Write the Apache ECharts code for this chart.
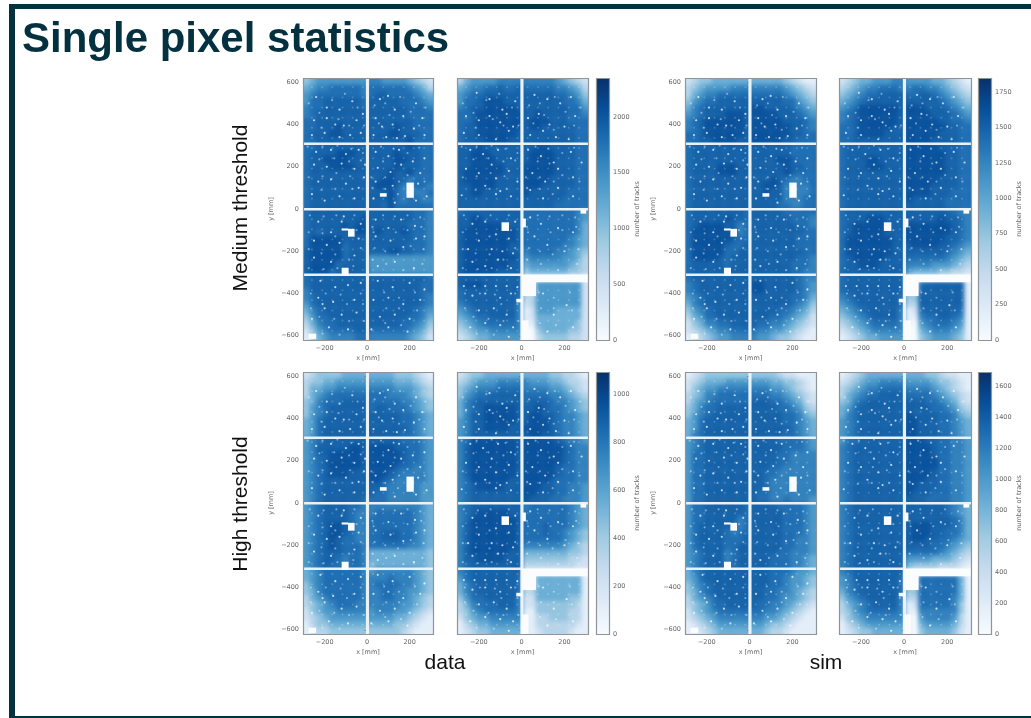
<!DOCTYPE html>
<html>
<head>
<meta charset="utf-8">
<title>Single pixel statistics</title>
<script src="https://cdn.jsdelivr.net/npm/echarts@6/dist/echarts.min.js"></script>
<style>
html,body{margin:0;padding:0;background:#fff;}
#heat,#main{position:absolute;left:0;top:0;width:1031px;height:718px;}
#heat{filter:blur(2px);}
#main{filter:blur(0.45px);}
</style>
</head>
<body>
<div id="heat"></div>
<div id="main"></div>
<script>
// each pair of strings is one row of cells from y=620 down to y=-620, each char one cell from x=-302 to x=310
// char = level (hex, 0 = empty), see levelShare
const medDataA = [
"4566666666","7766665432","5677888887","8888887653","6788888887","8998888765","6889999998","9999988876",
"7889999998","9999998887","7899999999","9999998888","8899999999","9999999888","88999a9999","9999a99888",
"8999aa9999","999aa99988","8899999999","999999a888","8899999999","999999a988","89999aaa99","9999a99988",
"899aaaa999","9999aa9988","8999aaaa99","9999a99988","8999999999","999a99a888","8999999999","99aa997888",
"8999999999","9aaa977887","8999999999","999a877778","8999999999","999a878877","8999999999","998a888888",
"8999999999","9999999887","899999999a","9999999887","899999a9aa","9999998887","89899999aa","9a999a9887",
"8aaaaa9999","9999999887","8aaaaa8999","9999998887","9aaaaa8999","999aa99887","9aaaaa8999","6666666666",
"9aaaa89999","6666666666","9aaa899999","6666666666","8999999999","9999999998","8999999999","9999999988",
"7999999999","9999999988","7899999999","9999999987","6899999999","9999999987","5789999999","9999999876",
"4688999999","9999998875","3578899999","9999988764","2467888899","8888887653","1356777788","7777776542"];
const medDataB = [
"3566667777","7777765432","5677889889","8888877653","6788999999","9999988764","6889aaa999","9999998875",
"7899aaaaa9","9999999886","889aaaaaaa","99a9999887","889aaaaaaa","9aaa999888","899aaaaaaa","9aa9999988",
"899aaaaaa9","9999999988","8999aaaa99","9999999988","999a999999","99aa999988","99aaa99999","9aaaa99988",
"99aaaa9999","9aaaa99988","99aaaaa999","aaaaa99988","9aaaaaa999","aaaaa99988","9aaaaa9999","aaaa999988",
"99aaaa9999","aaa9999988","99aa999999","a999999888","9999999999","9999998888","9999999999","9999988888",
"8999999999","8888888876","99aa999999","8888888876","99aaaaa999","8888888875","9aaaaaaaa9","8888888875",
"9aaaaaaaa9","8888888765","9aaaaaaa99","8888887765","9aaaaaaa99","7888877654","9aaaaaaaa9","6777776653",
"9aaaaaaa99","5666666543","9aaaaa9999","4555555443","9999999999","0000000000","9aaa999999","0066666662",
"8999999999","0066666662","8999999998","3366666662","7899999997","2366666662","6789999997","1266655552",
"5678899997","1255555552","4567888887","1155555542","3456677777","0045555442","2345566666","0034444332"];
const medSimA = [
"2344555555","5555543211","3456666777","7777765432","3567788888","8888876543","4678899999","9999988654",
"5789999999","aa99998765","678999aaa9","aaaa999876","789aaaaaa9","aaaaa99987","789aaaaaa9","aaaaaa9987",
"889aaaaaa9","aaaaaa9988","8899aaaa99","aaaaa99888","8999999999","9999998888","8999999999","9999998888",
"8999999999","9999aa9888","89999aaa99","99999a9988","89999aaa99","99999a9888","8999999999","999a987788",
"8999999999","99aa977778","8999999999","99a9977778","8999999999","9999977788","8999999999","9999887788",
"8999999998","9999988888","899999a998","9999998887","89aaaa9978","9999999887","8aaaaaa978","9999999988",
"8aaaaaa988","9999999888","8aaaaa9889","9999999888","8aaaaa8899","9999999988","8aaaa98999","9999999887",
"8999998999","9999998887","8999998999","9999998877","8999999999","9999999877","7899999999","aa99999876",
"7899999999","aa99999876","6789999999","9999998875","5789999999","9999998764","4678999999","9999887653",
"3568899999","9998876542","2457788999","9887765432","2345677888","8776654321","1234566777","7665443211"];
const medSimB = [
"2345566677","6666554321","3456778887","7887765432","4567889999","8899876543","5678999999","9999987654",
"678aaaaaa9","aaa9998765","789aaaaaa9","aaaa999876","789aaaaaa9","aaaaa99887","889aaaaa99","aaaaaa9988",
"889aaaa999","aaaaa99988","8899999999","aaaa999988","8999999999","aaaaa99988","8999999999","aaaaaa9988",
"8999aa9999","aaaaaa9988","8999aaa999","aaaaaa9988","8999999999","aaaaaa9988","8999999999","aaaaa99988",
"8999999999","aaaa999988","8999999999","aaaa999888","8999999999","a999998888","8999999999","9999998888",
"8999999999","9999999877","8999aaa999","99999a9987","89aaaaa999","aaaaaaa987","89aaaaa999","aaaaaaa987",
"8aaaaaaa99","aaaaaa9987","8aaaaaaa99","9aaaa99876","8aaaaaaa99","9999998765","89aaaaa999","8888887654",
"899aaa9999","7777666543","8999999999","6555544332","8999999999","0000000000","8999999999","0089999991",
"8999999999","0099999991","7899999998","4499999991","6789999998","3399999991","5678999997","1289999981",
"4567899997","1178899871","3456788887","1067888761","2345677777","0056777651","1234556666","0045666541"];
const highDataA = [
"2344445555","5555444321","3445566666","6666555432","3556677777","7777666543","3567888888","8887776543",
"4578889999","8888877654","4678999999","8998887654","4678999999","9999988765","5689999999","9999988765",
"5689999999","9999998765","5689999999","9999988765","6789999999","9999988876","6799999aa9","aaaa998876",
"6799aaaaa9","aaaaa98876","6789aaaaa9","aaaaa98876","6789aaaaa9","aaaa988776","6789aaa999","aaa9877776",
"6789999999","aa98777776","6789999999","9987777766","6789999999","9887777766","6789999998","8887777766",
"6789999887","7777777765","6789999877","7888888765","6789999877","8888888765","6789aa9877","8888888765",
"6789aa9877","8899988765","6789a98877","8899988765","6789a98887","8888887765","6789998887","5555555554",
"6789987887","5555555554","6789887887","4555555554","5678888887","6777777654","5678888887","7778777654",
"4678888887","7888877654","4578888887","7788776654","3567888887","7788776543","3456788877","7777766543",
"2456677777","6777665432","2345666666","6666554321","1344555555","5555443211","1233444444","4444432111"];
const highDataB = [
"2344555555","5555443321","3456667777","7666554332","4567778888","7777665432","4678899999","8888776543",
"5789999999","8999877654","5789aaaaa9","99a9887654","5799aaaaa9","9aa9987765","6799aaaaa9","9aaa987765",
"6799aaaa99","aaaa987765","6799999999","9aa9987765","78aaaaaaa9","aaaaa98776","79aaaaaaa9","aaaaaa9877",
"79aaaaaaa9","aaaaaa9877","79aaaaaaa9","aaaaaa9877","79aaaaaaa9","aaaaa98877","79aaaaaaa9","aaaaa98877",
"78aaaaaa99","aaaa988877","789aaaa999","aaa9988776","7899999999","aa99988776","7899999999","a999887776",
"7899999999","7888888765","789aaaaa99","8888888765","78aaaaaaa9","8888888765","79aaaaaaa9","8889888765",
"79aaaaaaa9","8889887654","79aaaaaaa9","8888887654","79aaaaaaa9","7777776543","79aaaaaa99","5555555443",
"799aaaa999","4444444332","7899999999","3333333322","7899999999","0000000000","6899999998","0055555551",
"5789999998","0055555551","5789999998","3355555551","4688999997","2255555441","3578889997","2244444431",
"3467888887","1144444331","2456677777","1133444331","1345566666","1133333321","1234455555","1123333211"];
const highSimA = [
"1234444444","4444322111","2345556666","6665544321","2456677777","7776654321","3457788888","8887765432",
"3567888888","9998876532","4578899999","9999887643","4678999999","9999988754","5689999999","9999988765",
"5689999999","9999998765","5789999999","9999988765","6789999999","9999888876","6789999999","9999988876",
"6889999999","9999887777","6889999999","9999887777","6889999999","9998877777","6889999999","9988777777",
"6889999999","9987777777","6889999999","9987777777","6889999999","9887777777","6889999999","9887787776",
"6889999998","9999888876","6889999998","9999988876","6889999978","9999988876","6899999878","9999988876",
"6899998788","9999988876","6899998889","9999988776","6899998899","9999988776","6789997899","9999887776",
"6789997899","9998887765","6789997899","9998887765","5789999999","9998887665","5689999999","9998876654",
"4678999999","9998876654","4578999999","9988776543","3567899999","9988766543","3456889999","9887765432",
"2456788888","8877654321","2345677777","7766543211","1234566666","6654432111","1123455555","5543321111"];
const highSimB = [
"1234555555","5554432211","2345667777","6666544321","3456778888","7777654321","3567889999","8888765432",
"4578999999","9998876532","5689999999","9999887643","5789999999","a999988754","6789999999","aa99988765",
"6789999999","aa99988765","6789999999","aa99988765","6889999999","aaa9988776","7899999999","aaaa988776",
"7899999999","aaaa988776","7899999999","aaaaa88776","7899999999","aaaaa88776","7899999999","aaaa988776",
"7899999999","aaa9988776","7899999999","aa99988776","7899999999","a999888776","7899999999","9998888776",
"7899999999","9999998765","7899999999","9999998765","7899999999","9999999875","7899999999","9aaa999875",
"7899999999","9aaa998875","7899999999","9aa9988765","7899999999","9999887654","7899999999","8888876543",
"7899999999","6666555432","7899999999","5444433321","7899999999","0000000000","6799999998","0088888851",
"6789999998","0088888851","5789999998","4488888851","4678999997","3388888751","3567899997","1288888741",
"3467888887","1177777741","2456777777","1067777631","1345666666","1056666531","1234455555","1045555421"];

const xTicks = [-200, 0, 200];
const yTicks = [-600, -400, -200, 0, 200, 400, 600];
const barTicksMedData = [0, 500, 1000, 1500, 2000];
const barTicksMedSim = [0, 250, 500, 750, 1000, 1250, 1500, 1750];
const barTicksHighData = [0, 200, 400, 600, 800, 1000];
const barTicksHighSim = [0, 200, 400, 600, 800, 1000, 1200, 1400, 1600];

// share of the colour bar top for each level char, and the top of the bar for the four pairs of maps
const levelShare = [0, 0.1, 0.2, 0.3, 0.4, 0.5, 0.6, 0.69, 0.76, 0.81, 0.87];
const maxPerPair = [2350, 1850, 1095, 1690];

// dead areas [x0, x1, y0, y1] in mm, one list per detector side
const deadA = [[185,218,55,125],[-90,-61,-129,-94],[-120,-89,-315,-278],[-276,-242,-613,-590],[60,90,60,75],[-120,-90,-100,-92]];
const deadB = [[-94,-61,-102,-63],[0,310,-345,-310],[0,65,-410,-345],[0,30,-620,-527],[-25,2,-440,-425],[3,18,-85,-45],[275,300,-20,-4]];
// gaps between sensors
const gapsA = [[-302,310,305,315],[-302,310,-5,5],[-302,310,-315,-305],[-6,7,-620,620]];
const gapsB = [[-302,310,305,315],[-302,310,-5,5],[-302,0,-315,-305],[-6,7,-620,620]];

// single dead pixels, read by eye
const specksA = [[-240,530],[-190,480],[-130,470],[-70,510],[-20,450],[60,520],[98,535],[130,470],[170,440],[230,500],[260,430],
[-250,420],[-190,430],[-150,400],[-110,395],[-50,420],[40,430],[70,390],[120,400],[178,345],[220,380],[270,350],[-260,350],
[-200,360],[-130,340],[-80,350],[-30,360],[30,350],[90,340],[140,335],[-240,270],[-170,280],[-100,260],[-40,280],[40,270],
[100,250],[150,280],[215,225],[270,240],[-250,210],[-190,200],[-120,215],[-60,190],[-10,210],[-15,150],[50,195],[110,175],
[160,210],[250,170],[-230,130],[-170,140],[-100,120],[-40,100],[40,130],[120,110],[240,120],[280,60],[-260,70],[-200,40],
[-130,60],[-60,50],[30,50],[130,30],[230,40],[-110,-35],[-230,-60],[-170,-110],[-120,-60],[-30,-70],[40,-50],[100,-90],
[160,-50],[225,-80],[270,-130],[-250,-150],[-190,-170],[-130,-160],[-40,-140],[40,-130],[110,-150],[170,-180],[230,-140],
[-250,-230],[-170,-250],[-60,-220],[50,-270],[130,-250],[220,-280],[-220,-340],[-150,-370],[-90,-360],[-30,-350],[50,-340],
[120,-370],[200,-350],[270,-380],[-230,-420],[-160,-440],[-60,-430],[30,-430],[100,-420],[170,-450],[250,-430],[-210,-450],
[-200,-470],[-120,-500],[-50,-490],[60,-510],[130,-500],[200,-520],[-260,-520],[-180,-560],[-90,-570],[20,-570],[100,-560],[190,-580]];
const specksB = [[-210,550],[-150,520],[-90,470],[-30,510],[60,540],[120,520],[180,500],[230,530],[-260,440],[-200,420],[-150,440],
[-100,410],[-70,450],[-40,390],[30,430],[80,450],[130,400],[200,390],[250,440],[-270,360],[-200,350],[-120,330],[-60,370],
[40,350],[100,370],[160,340],[220,330],[-240,280],[-180,260],[-110,280],[-50,240],[30,280],[90,250],[150,220],[230,270],
[280,220],[-260,190],[-200,170],[-140,210],[-120,145],[-60,180],[-20,130],[50,170],[110,130],[170,190],[240,150],[-170,110],
[-120,70],[-100,85],[-50,60],[40,90],[100,50],[170,100],[240,60],[-280,65],[-230,-70],[-170,-60],[-120,-120],[-60,-140],
[-30,-60],[40,-40],[90,-70],[170,-90],[240,-110],[-250,-190],[-200,-150],[-140,-190],[-90,-200],[-40,-210],[60,-130],[120,-170],
[200,-200],[-230,-250],[-170,-270],[-110,-240],[-50,-280],[-270,-365],[-220,-365],[-170,-365],[-120,-365],[-70,-365],[-20,-370],
[-230,-410],[-170,-400],[-100,-420],[-50,-400],[100,-400],[210,-455],[150,-500],[-200,-480],[-130,-470],[-70,-500],[-170,-540],
[-100,-550],[-40,-560],[-240,-560],[-60,-605],[120,-580],[240,-560]];
// weaker spots seen on all the maps
const specksFaint = [[-275,500],[-225,455],[-165,515],[-105,545],[-45,480],[35,490],[85,500],[155,530],[205,460],[275,480],
[-215,385],[-135,425],[-85,395],[-15,395],[55,405],[105,445],[150,375],[245,395],[-280,295],[-210,295],[-140,300],[-75,285],
[-20,265],[65,295],[125,285],[190,265],[245,290],[-225,235],[-155,240],[-85,225],[-30,230],[75,225],[130,215],[190,160],
[-275,150],[-210,155],[-145,170],[-80,155],[20,150],[85,150],[150,130],[270,130],[-215,90],[-150,95],[-70,95],[25,100],
[85,95],[145,70],[-270,-30],[-205,-35],[-145,-30],[-60,-30],[25,-85],[75,-30],[130,-35],[190,-30],[250,-40],[-275,-110],
[-210,-115],[-150,-130],[-50,-100],[30,-110],[135,-110],[190,-100],[255,-85],[-275,-190],[-215,-210],[-150,-215],[-85,-240],
[-30,-185],[35,-185],[85,-200],[145,-215],[205,-175],[265,-190],[-275,-280],[-205,-285],[-140,-280],[-65,-270],[25,-240],
[90,-260],[170,-290],[260,-260],[-265,-400],[-195,-400],[-125,-405],[-30,-400],[80,-395],[150,-420],[225,-395],[-265,-470],
[-95,-450],[-20,-450],[90,-470],[150,-470],[235,-480],[-225,-510],[-155,-520],[-85,-530],[-15,-530],[85,-540],[160,-550],[-210,-590],[-130,-595]];
// readout pattern, faint regular dots
const latticeX = [-260,-212,-164,-116,-68,-20,28,76,124,172,220,268];
const latticeY = [576,528,480,432,384,336,288,240,192,144,96,48,-48,-96,-144,-192,-240,-288,-336,-384,-432,-480,-528,-576];

const blues = ['#f7fbff','#deebf7','#c6dbef','#9ecae1','#6baed6','#4292c6','#2171b5','#08519c','#08306b'];

// layout of the picture
const panelLeft = [303, 457, 685, 839];
const panelWidth = [130, 131, 131, 132];
const rowTop = [78, 372];
const panelHeight = 262;
const barLeft = [596, 978];
const barWidth = 13;
const BLEED = 4; // px the blurred map goes past the frame, hidden by a white mask

const X_MIN = -302, X_MAX = 310, Y_MAX = 620, COLS = 20, ROWS = 40;
const AXIS_COLOR = '#666';
const FRAME_COLOR = '#04313f';

function toCells(rows, vmax) {
  const cells = [];
  const joined = [];
  for (let i = 0; i < rows.length; i += 2) joined.push(rows[i] + rows[i + 1]);
  const dx = (X_MAX - X_MIN) / COLS, dy = 2 * Y_MAX / ROWS;
  joined.forEach((row, r) => {
    for (let c = 0; c < row.length; c++) {
      const top = Y_MAX - r * dy;
      // outer cells run on under the mask so the blur does not fade at the frame
      const x0 = c === 0 ? X_MIN - 40 : X_MIN + c * dx;
      const x1 = c === COLS - 1 ? X_MAX + 40 : X_MIN + (c + 1) * dx;
      const y0 = r === ROWS - 1 ? -Y_MAX - 40 : top - dy;
      const y1 = r === 0 ? Y_MAX + 40 : top;
      cells.push([x0, x1, y0, y1, levelShare[parseInt(row[c], 16)] * vmax]);
    }
  });
  return cells;
}

function latticePoints() {
  const pts = [];
  latticeX.forEach(x => latticeY.forEach(y => pts.push([x, y])));
  return pts;
}

function rectRender(fill) {
  return function (params, api) {
    const a = api.coord([api.value(0), api.value(3)]);
    const b = api.coord([api.value(1), api.value(2)]);
    return {type: 'rect', shape: {x: a[0], y: a[1], width: b[0] - a[0] + 0.4, height: b[1] - a[1] + 0.4},
      style: {fill: typeof fill === 'function' ? fill(api) : fill}};
  };
}

const grid = [], xAxis = [], yAxis = [], series = [], graphic = [];
const heatGrid = [], heatX = [], heatY = [], heatSeries = [];
const lattice = latticePoints();

const smallFont = {fontSize: 6.5, color: AXIS_COLOR, fontFamily: 'DejaVu Sans'};
const minusLabel = v => String(v).replace('-', '\u2212');

function addFrame(left, top, width, height, mask) {
  if (mask) {
    graphic.push({type: 'rect', z: -1, shape: {x: left - 5, y: top - 5, width: width + 11, height: height + 11},
      style: {fill: 'none', stroke: '#fff', lineWidth: 10}});
  }
  graphic.push({type: 'rect', z: 100, shape: {x: left + 0.5, y: top + 0.5, width: width, height: height},
    style: {fill: 'none', stroke: '#8f9499', lineWidth: 1.2}});
}

function addPanel(rows, pair, col, row) {
  const idx = grid.length;
  const isLeft = col % 2 === 0;
  const left = panelLeft[col], top = rowTop[row], w = panelWidth[col];
  const vmax = maxPerPair[pair];

  // blurred layer with the map itself
  const hi = heatGrid.length;
  const mmX = BLEED * (X_MAX - X_MIN) / w, mmY = BLEED * 2 * Y_MAX / panelHeight;
  heatGrid.push({left: left - BLEED, top: top - BLEED, width: w + 2 * BLEED, height: panelHeight + 2 * BLEED});
  heatX.push({gridIndex: hi, type: 'value', min: X_MIN - mmX, max: X_MAX + mmX, show: false});
  heatY.push({gridIndex: hi, type: 'value', min: -Y_MAX - mmY, max: Y_MAX + mmY, show: false});
  heatSeries.push({type: 'custom', xAxisIndex: hi, yAxisIndex: hi, silent: true, animation: false, clip: true, encode: {x: [0, 1], y: [2, 3]},
    data: toCells(rows, vmax),
    renderItem: rectRender(api => echarts.color.lerp(Math.min(api.value(4) / vmax, 1), blues))});

  // sharp layer with axes, specks and dead areas
  grid.push({left: left, top: top, width: w, height: panelHeight});
  xAxis.push({gridIndex: idx, type: 'value', min: X_MIN, max: X_MAX, name: 'x [mm]', nameLocation: 'middle', nameGap: 15,
    nameTextStyle: smallFont, splitLine: {show: false}, axisLine: {show: false},
    axisTick: {show: true, length: 2.5, customValues: xTicks, lineStyle: {color: AXIS_COLOR, width: 0.7}},
    axisLabel: Object.assign({customValues: xTicks, margin: 5, formatter: minusLabel}, smallFont)});
  yAxis.push({gridIndex: idx, type: 'value', min: -Y_MAX, max: Y_MAX, name: isLeft ? 'y [mm]' : '', nameLocation: 'middle', nameGap: 28,
    nameTextStyle: smallFont, splitLine: {show: false}, axisLine: {show: false},
    axisTick: {show: true, length: 2.5, customValues: yTicks, lineStyle: {color: AXIS_COLOR, width: 0.7}},
    axisLabel: Object.assign({show: isLeft, customValues: yTicks, margin: 4, formatter: minusLabel}, smallFont)});
  const base = {xAxisIndex: idx, yAxisIndex: idx, silent: true, animation: false};
  series.push(Object.assign({type: 'scatter', symbolSize: 2, data: lattice, z: 3,
    itemStyle: {color: '#fff', opacity: 0.2}}, base));
  series.push(Object.assign({type: 'scatter', symbolSize: 2.2, data: specksFaint, z: 3,
    itemStyle: {color: '#fff', opacity: 0.42}}, base));
  series.push(Object.assign({type: 'scatter', symbolSize: 2.2, data: isLeft ? specksA : specksB, z: 4,
    itemStyle: {color: '#fff', opacity: 0.72}}, base));
  series.push(Object.assign({type: 'custom', encode: {x: [0, 1], y: [2, 3]}, clip: true, z: 5, data: isLeft ? gapsA : gapsB,
    renderItem: rectRender('#eaf2f8')}, base));
  series.push(Object.assign({type: 'custom', encode: {x: [0, 1], y: [2, 3]}, clip: true, z: 6, data: isLeft ? deadA : deadB,
    renderItem: rectRender('#fafcfe')}, base));
  addFrame(left, top, w, panelHeight, true);
}

function addBar(pair, col, row, ticks) {
  const idx = grid.length;
  const left = barLeft[col], top = rowTop[row], vmax = maxPerPair[pair];
  grid.push({left: left, top: top, width: barWidth, height: panelHeight});
  xAxis.push({gridIndex: idx, type: 'value', min: 0, max: 1, show: false});
  yAxis.push({gridIndex: idx, type: 'value', position: 'right', min: 0, max: vmax, name: 'number of tracks', nameLocation: 'middle',
    nameGap: 25, nameRotate: 90, nameTextStyle: smallFont, splitLine: {show: false}, axisLine: {show: false},
    axisTick: {show: true, length: 2.5, customValues: ticks, lineStyle: {color: AXIS_COLOR, width: 0.7}},
    axisLabel: Object.assign({customValues: ticks, margin: 4, formatter: v => String(v)}, smallFont)});
  const fill = new echarts.graphic.LinearGradient(0, 0, 0, 1, blues.slice().reverse().map((c, i) => ({offset: i / (blues.length - 1), color: c})));
  series.push({type: 'custom', xAxisIndex: idx, yAxisIndex: idx, silent: true, animation: false, encode: {x: [0, 1], y: [2, 3]},
    data: [[0, 1, 0, vmax]], renderItem: rectRender(fill)});
  addFrame(left, top, barWidth, panelHeight, false);
}

addPanel(medDataA, 0, 0, 0); addPanel(medDataB, 0, 1, 0); addBar(0, 0, 0, barTicksMedData);
addPanel(medSimA, 1, 2, 0); addPanel(medSimB, 1, 3, 0); addBar(1, 1, 0, barTicksMedSim);
addPanel(highDataA, 2, 0, 1); addPanel(highDataB, 2, 1, 1); addBar(2, 0, 1, barTicksHighData);
addPanel(highSimA, 3, 2, 1); addPanel(highSimB, 3, 3, 1); addBar(3, 1, 1, barTicksHighSim);

// slide frame
graphic.push({type: 'rect', shape: {x: 9, y: 4, width: 1022, height: 5}, style: {fill: FRAME_COLOR}});
graphic.push({type: 'rect', shape: {x: 9, y: 4, width: 6, height: 714}, style: {fill: FRAME_COLOR}});
graphic.push({type: 'rect', shape: {x: 9, y: 716, width: 1022, height: 2}, style: {fill: FRAME_COLOR}});

const bigFont = '21px "Liberation Sans"';
graphic.push({type: 'text', x: 22, y: 19, style: {text: 'Single pixel statistics', fill: FRAME_COLOR, font: 'bold 42px "Liberation Sans"'}});
graphic.push({type: 'text', x: 241, y: 208, rotation: Math.PI / 2, style: {text: 'Medium threshold', fill: '#111', font: bigFont, align: 'center', verticalAlign: 'middle'}});
graphic.push({type: 'text', x: 241, y: 504, rotation: Math.PI / 2, style: {text: 'High threshold', fill: '#111', font: bigFont, align: 'center', verticalAlign: 'middle'}});
graphic.push({type: 'text', x: 445, y: 663, style: {text: 'data', fill: '#111', font: bigFont, align: 'center', verticalAlign: 'middle'}});
graphic.push({type: 'text', x: 826, y: 663, style: {text: 'sim', fill: '#111', font: bigFont, align: 'center', verticalAlign: 'middle'}});

const heatChart = echarts.init(document.getElementById('heat'));
heatChart.setOption({backgroundColor: '#fff', animation: false, grid: heatGrid, xAxis: heatX, yAxis: heatY, series: heatSeries});

const chart = echarts.init(document.getElementById('main'));
chart.setOption({
  backgroundColor: 'transparent',
  animation: false,
  grid: grid,
  xAxis: xAxis,
  yAxis: yAxis,
  series: series,
  graphic: graphic
});
</script>
</body>
</html>
